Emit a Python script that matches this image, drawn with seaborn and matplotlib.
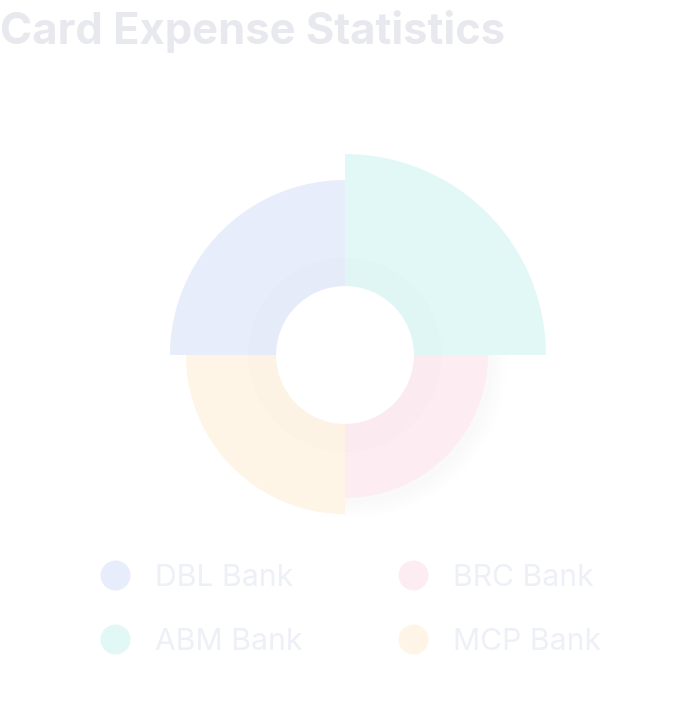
import numpy as np
import matplotlib
matplotlib.use("Agg")
import matplotlib.pyplot as plt
from matplotlib.patches import Circle
import seaborn as sns

# datos del grafico (radio de cada sector, en px desde el hueco central)
banks = ["ABM Bank", "DBL Bank", "MCP Bank", "BRC Bank"]
expenses = [132, 106, 90, 74]
colors = ["#E2F8F6", "#E8EDFC", "#FEF5E7", "#FDEDF2"]

legend_labels = ["DBL Bank", "BRC Bank", "ABM Bank", "MCP Bank"]
legend_colors = ["#E8EDFC", "#FDEDF2", "#E2F8F6", "#FEF5E7"]

hole = 69

sns.set_theme(style="white")
plt.rcParams['font.family'] = ['Inter', 'DejaVu Sans']

W, H = 700, 714
fig = plt.figure(figsize=(W / 100, H / 100), dpi=100)
fig.patch.set_facecolor("white")

# fondo: sombra difusa muy tenue
bax = fig.add_axes([0, 0, 1, 1])
bax.set_xlim(0, W)
bax.set_ylim(H, 0)
bax.axis("off")
for r in range(140, 158, 3):
    bax.add_patch(Circle((352, 363), r, color="#000000", alpha=0.0025, linewidth=0))

# ejes polares centrados en (345, 355) px
cx, cy, R = 345, 355, 215
ax = fig.add_axes([(cx - R) / W, (H - cy - R) / H, 2 * R / W, 2 * R / H], projection="polar")
ax.set_facecolor("none")

theta = np.deg2rad([45, 135, 225, 315])
ax.bar(theta, [hole] * 4, width=np.pi / 2, bottom=0, color="white", linewidth=0)
ax.bar(theta, expenses, width=np.pi / 2, bottom=hole, color=colors, linewidth=0, align="center")

# sombra interior sutil
ax.bar(theta, [28] * 4, width=np.pi / 2, bottom=hole, color="#000000", alpha=0.008, linewidth=0)

ax.set_ylim(0, R)
ax.set_xticks([])
ax.set_yticks([])
ax.grid(False)
ax.spines["polar"].set_visible(False)

# titulo
fig.text(0, 1 - 44 / H, "Card Expense Statistics", fontsize=31.3, fontweight="bold",
         color="#E8E8EF", ha="left", va="baseline")

# leyenda manual
lax = fig.add_axes([0, 0, 1, 1])
lax.set_xlim(0, W)
lax.set_ylim(H, 0)
lax.axis("off")
pos = [(115, 575), (413, 575), (115, 639), (413, 639)]
for (x, y), lab, col in zip(pos, legend_labels, legend_colors):
    lax.scatter([x], [y], s=(30 * 0.72) ** 2, color=col, linewidths=0)
    lax.text(x + 40, y + 11, lab, fontsize=21.7, color="#EEF0F7", ha="left", va="baseline")

fig.savefig("out.png", dpi=100)
